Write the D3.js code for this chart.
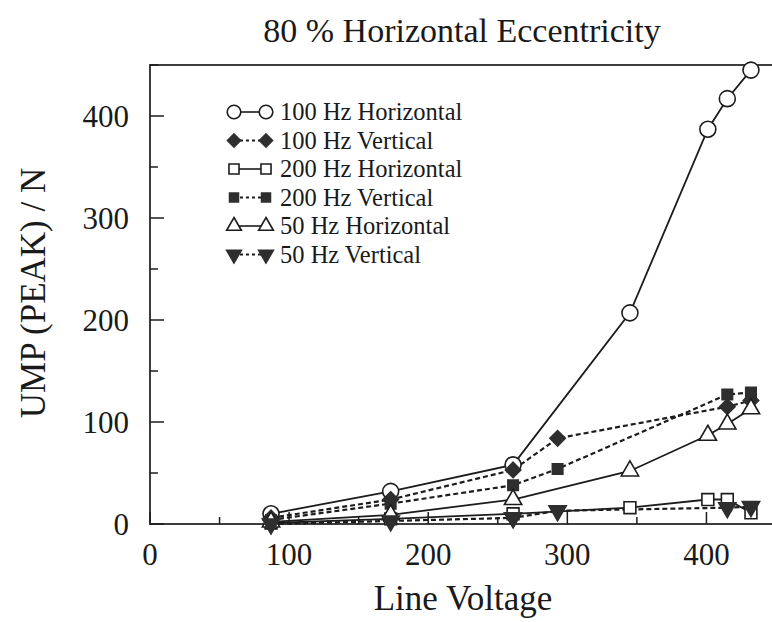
<!DOCTYPE html>
<html>
<head>
<meta charset="utf-8">
<script src="https://cdn.jsdelivr.net/npm/d3@7"></script>
<style>
  html, body { margin: 0; padding: 0; background: #fff; }
  svg { display: block; }
  text { font-family: "Liberation Serif", "DejaVu Serif", serif; fill: #1a1a1a; }
</style>
</head>
<body>
<svg id="chart" width="772" height="622"></svg>
<script>
// ---- data ----
const titleText = "80 % Horizontal Eccentricity";
const xTitle = "Line Voltage";
const yTitle = "UMP (PEAK) / N";
const xTicks = [0, 100, 200, 300, 400];
const yTicks = [0, 100, 200, 300, 400];

const v100H = [87, 173, 261, 345, 401, 415, 432];
const u100H = [10, 32, 58, 207, 387, 417, 445];
const v100V = [87, 173, 261, 293, 415, 432];
const u100V = [6, 24, 53, 84, 115, 121];
const v200H = [87, 173, 261, 345, 401, 415, 432];
const u200H = [1, 5, 10, 16, 24, 24, 11];
const v200V = [87, 173, 261, 293, 415, 432];
const u200V = [4, 20, 38, 54, 127, 129];
const v50H = [87, 173, 261, 345, 401, 415, 432];
const u50H = [2, 9, 24, 52, 87, 98, 113];
const v50V = [87, 173, 261, 293, 415, 432];
const u50V = [0, 3, 6, 13, 16, 17];

const seriesNames = ["100 Hz Horizontal", "100 Hz Vertical", "200 Hz Horizontal",
                     "200 Hz Vertical", "50 Hz Horizontal", "50 Hz Vertical"];

// ---- build series ----
const zip = (xv, yv) => xv.map((a, i) => ({x: a, y: yv[i]}));
const series = [
  {name: seriesNames[0], pts: zip(v100H, u100H), marker: "circle",   dashed: false, filled: false},
  {name: seriesNames[1], pts: zip(v100V, u100V), marker: "diamond",  dashed: true,  filled: true},
  {name: seriesNames[2], pts: zip(v200H, u200H), marker: "square",   dashed: false, filled: false},
  {name: seriesNames[3], pts: zip(v200V, u200V), marker: "square",   dashed: true,  filled: true},
  {name: seriesNames[4], pts: zip(v50H, u50H),   marker: "triangle", dashed: false, filled: false},
  {name: seriesNames[5], pts: zip(v50V, u50V),   marker: "triDown",  dashed: true,  filled: true}
];

// ---- layout ----
const pL = 150, pR = 776, pT = 65, pB = 524;
const xs = d3.scaleLinear().domain([0, 450]).range([pL, pR]);
const ys = d3.scaleLinear().domain([0, 450]).range([pB, pT]);

const svg = d3.select("#chart");
const ink = "#1c1c1c";
const fillDark = "#2e2e2e";

// frame
svg.append("rect").attr("x", pL).attr("y", pT)
  .attr("width", pR - pL).attr("height", pB - pT)
  .attr("fill", "none").attr("stroke", ink).attr("stroke-width", 1.7);

// ticks (inward)
const xMinor = d3.range(50, 450, 100);
const yMinor = d3.range(50, 460, 100);
const tk = svg.append("g").attr("stroke", ink).attr("stroke-width", 1.5);
xTicks.forEach(t => tk.append("line").attr("x1", xs(t)).attr("x2", xs(t)).attr("y1", pB).attr("y2", pB - 12));
xMinor.forEach(t => tk.append("line").attr("x1", xs(t)).attr("x2", xs(t)).attr("y1", pB).attr("y2", pB - 7));
yTicks.forEach(t => tk.append("line").attr("y1", ys(t)).attr("y2", ys(t)).attr("x1", pL).attr("x2", pL + 14));
yMinor.forEach(t => tk.append("line").attr("y1", ys(t)).attr("y2", ys(t)).attr("x1", pL).attr("x2", pL + 8));

// tick labels
svg.append("g").selectAll("text").data(xTicks).join("text")
  .attr("x", d => xs(d)).attr("y", 565).attr("text-anchor", "middle")
  .attr("font-size", 31).text(d => d);
svg.append("g").selectAll("text").data(yTicks).join("text")
  .attr("x", 129).attr("y", d => ys(d)).attr("dy", "0.34em").attr("text-anchor", "end")
  .attr("font-size", 31).text(d => d);

// titles
svg.append("text").attr("x", 462).attr("y", 42).attr("text-anchor", "middle")
  .attr("font-size", 34).text(titleText);
svg.append("text").attr("x", 463).attr("y", 610).attr("text-anchor", "middle")
  .attr("font-size", 35).text(xTitle);
svg.append("text").attr("transform", "translate(45,293) rotate(-90)")
  .attr("text-anchor", "middle").attr("font-size", 35).text(yTitle);

// markers
function drawMarker(g, type, filled, cx, cy, k) {
  k = k || 1;
  const fill = filled ? fillDark : "#fff";
  const stroke = filled ? fillDark : ink;
  if (type === "circle") {
    g.append("circle").attr("cx", cx).attr("cy", cy).attr("r", 8 * k)
      .attr("fill", fill).attr("stroke", stroke).attr("stroke-width", 1.6);
    return;
  }
  if (type === "diamond") {
    const h = 8 * k;
    g.append("path").attr("d", `M${cx},${cy - h}L${cx + h},${cy}L${cx},${cy + h}L${cx - h},${cy}Z`)
      .attr("fill", fill).attr("stroke", stroke).attr("stroke-width", 1.2);
    return;
  }
  let sym, size, rot = 0;
  if (type === "square") { sym = d3.symbolSquare; size = (filled ? 110 : 140) * k * k; }
  else if (type === "triangle") { sym = d3.symbolTriangle; size = 130 * k * k; }
  else { sym = d3.symbolTriangle; size = 130 * k * k; rot = 180; }
  g.append("path").attr("d", d3.symbol().type(sym).size(size)())
    .attr("transform", `translate(${cx},${cy}) rotate(${rot})`)
    .attr("fill", fill).attr("stroke", stroke).attr("stroke-width", 1.6);
}

const lineGen = d3.line().x(d => xs(d.x)).y(d => ys(d.y));
const gLines = svg.append("g");
series.forEach(s => {
  gLines.append("path").datum(s.pts).attr("d", lineGen)
    .attr("fill", "none").attr("stroke", ink).attr("stroke-width", s.dashed ? 2.2 : 1.8)
    .attr("stroke-dasharray", s.dashed ? "5,3" : null);
});
const gMarks = svg.append("g");
series.forEach(s => s.pts.forEach(p => drawMarker(gMarks, s.marker, s.filled, xs(p.x), ys(p.y))));

// legend
const lg = svg.append("g");
const lx1 = 234, lx2 = 266, ly0 = 112, lstep = 28.5;
series.forEach((s, i) => {
  const yy = ly0 + i * lstep;
  lg.append("line").attr("x1", lx1).attr("x2", lx2).attr("y1", yy).attr("y2", yy)
    .attr("stroke", ink).attr("stroke-width", s.dashed ? 2 : 1.6)
    .attr("stroke-dasharray", s.dashed ? "3,3" : null);
  drawMarker(lg, s.marker, s.filled, lx1, yy, 0.85);
  drawMarker(lg, s.marker, s.filled, lx2, yy, 0.85);
  lg.append("text").attr("x", 280).attr("y", yy).attr("dy", "0.34em")
    .attr("font-size", 24.5).text(s.name);
});
</script>
</body>
</html>
